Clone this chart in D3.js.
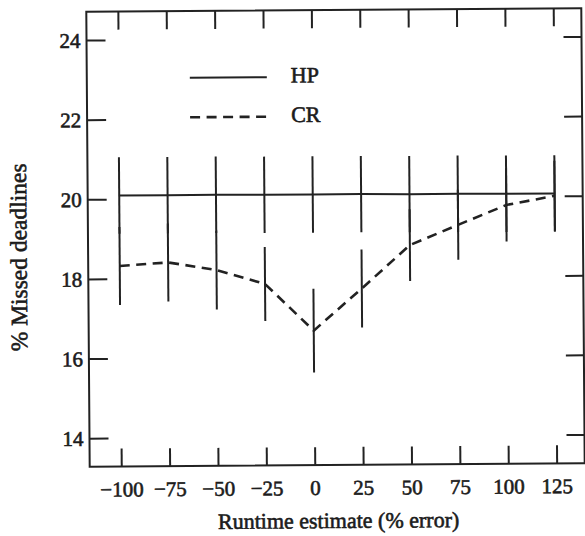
<!DOCTYPE html>
<html>
<head>
<meta charset="utf-8">
<script src="https://cdn.jsdelivr.net/npm/d3@7/dist/d3.min.js"></script>
<style>
  html, body { margin: 0; padding: 0; background: #fff; }
  svg { display: block; }
  svg text { font-family: "Liberation Serif", "DejaVu Serif", serif !important; fill: #1c1c1c; stroke: #1c1c1c; stroke-width: 0.6px; }
</style>
</head>
<body>
<svg id="chart" width="585" height="536"></svg>
<script>
// Runtime estimate error (%) on the x axis
const errors = [-100, -75, -50, -25, 0, 25, 50, 75, 100, 125];
// % missed deadlines for each scheduler
const hpValues = [20.09, 20.09, 20.09, 20.08, 20.08, 20.08, 20.07, 20.07, 20.06, 20.06];
const crValues = [18.32, 18.40, 18.20, 17.84, 16.66, 17.71, 18.79, 19.29, 19.78, 20.00];
// half-width of each error bar
const hpSpread = [0.96, 0.96, 0.96, 0.96, 0.96, 0.96, 0.96, 0.96, 0.96, 0.96];
const crSpread = [0.98, 0.98, 0.99, 0.93, 1.05, 0.98, 0.90, 0.88, 0.92, 0.88];
const yTicks = [14, 16, 18, 20, 22, 24];
const seriesNames = ["HP", "CR"];

const svg = d3.select("#chart");
const ink = "#222";
const serif = '"Liberation Serif", serif';

const m = { left: 88, right: 583, top: 10, bottom: 465 };
const x = d3.scaleLinear().domain([-116.3, 139.5]).range([m.left, m.right]);
const y = d3.scaleLinear().domain([13.28, 24.71]).range([m.bottom, m.top]);

// the whole figure sits very slightly askew
const g = svg.append("g").attr("transform", "rotate(-0.43 335 238)");

// frame
g.append("rect")
  .attr("x", m.left).attr("y", m.top)
  .attr("width", m.right - m.left).attr("height", m.bottom - m.top)
  .attr("fill", "none").attr("stroke", ink).attr("stroke-width", 2);

function styleAxis(sel) {
  sel.attr("font-family", serif).attr("font-size", 21);
  sel.select(".domain").remove();
  sel.selectAll(".tick line").attr("stroke", ink).attr("stroke-width", 2);
}

const fmt = d => (d < 0 ? "\u2212" + Math.abs(d) : String(d));

g.append("g").attr("transform", `translate(0,${m.bottom})`)
  .call(d3.axisBottom(x).tickValues(errors).tickFormat(fmt).tickSize(-18).tickPadding(15))
  .call(styleAxis);
g.append("g").attr("transform", `translate(0,${m.top})`)
  .call(d3.axisTop(x).tickValues(errors).tickFormat("").tickSize(-18))
  .call(styleAxis);
g.append("g").attr("transform", `translate(${m.left},0)`)
  .call(d3.axisLeft(y).tickValues(yTicks).tickFormat(d3.format("d")).tickSize(-19).tickPadding(6))
  .call(styleAxis)
  .selectAll(".tick text").attr("dy", "0.34em");
g.append("g").attr("transform", `translate(${m.right},0)`)
  .call(d3.axisRight(y).tickValues(yTicks).tickFormat("").tickSize(-18))
  .call(styleAxis);

// error bars
const bars = errors.map((e, i) => ({ e, hp: hpValues[i], hs: hpSpread[i], cr: crValues[i], cs: crSpread[i] }));
g.append("g").selectAll("line").data(bars).join("line")
  .attr("x1", d => x(d.e)).attr("x2", d => x(d.e))
  .attr("y1", d => y(d.hp + d.hs)).attr("y2", d => y(d.hp - d.hs))
  .attr("stroke", ink).attr("stroke-width", 2);
g.append("g").selectAll("line").data(bars).join("line")
  .attr("x1", d => x(d.e)).attr("x2", d => x(d.e))
  .attr("y1", d => y(d.cr + d.cs)).attr("y2", d => y(d.cr - d.cs))
  .attr("stroke", ink).attr("stroke-width", 2);

// series lines
const line = d3.line().x(d => x(d[0])).y(d => y(d[1]));
g.append("path").datum(errors.map((e, i) => [e, hpValues[i]]))
  .attr("d", line).attr("fill", "none").attr("stroke", ink).attr("stroke-width", 2);
g.append("path").datum(errors.map((e, i) => [e, crValues[i]]))
  .attr("d", line).attr("fill", "none").attr("stroke", ink).attr("stroke-width", 2.6)
  .attr("stroke-dasharray", "10,6.5");

// legend
const legend = g.append("g").attr("font-family", serif);
[[76.7, null], [116.2, "10,6.5"]].forEach(([ly, dash], i) => {
  legend.append("line").attr("x1", 191).attr("x2", 268).attr("y1", ly).attr("y2", ly)
    .attr("stroke", ink).attr("stroke-width", dash ? 2.6 : 2)
    .attr("stroke-dasharray", dash);
  legend.append("text").attr("x", 292).attr("y", ly + 5.5).attr("font-size", 22)
    .text(seriesNames[i]);
});

// axis titles
g.append("text").attr("x", 336.5).attr("y", 528).attr("text-anchor", "middle")
  .attr("font-family", serif).attr("font-size", 22).text("Runtime estimate (% error)");
g.append("text").attr("transform", "translate(26.5,255) rotate(-90)")
  .attr("text-anchor", "middle").attr("font-family", serif).attr("font-size", 23.5)
  .text("% Missed deadlines");
</script>
</body>
</html>
